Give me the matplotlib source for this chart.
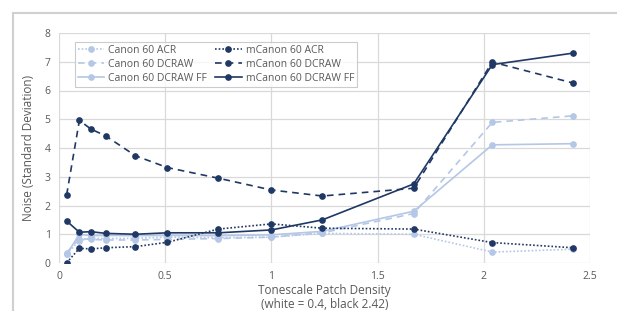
import matplotlib
matplotlib.use('Agg')
import matplotlib.pyplot as plt
from matplotlib.lines import Line2D

# tonescale patch densities (x) shared by every series
density = [0.036, 0.096, 0.15, 0.22, 0.36, 0.51, 0.75, 1.0, 1.24, 1.67, 2.04, 2.42]

canon_acr = [0.32, 0.78, 0.86, 0.85, 0.86, 0.9, 0.88, 0.9, 1.03, 1.0, 0.38, 0.48]
canon_dcraw = [0.36, 0.85, 0.82, 0.8, 0.8, 0.82, 0.85, 0.9, 1.05, 1.72, 4.89, 5.12]
canon_ff = [0.3, 1.0, 0.95, 0.96, 0.95, 0.96, 0.95, 0.98, 1.1, 1.8, 4.11, 4.15]
mcanon_acr = [0.01, 0.51, 0.49, 0.53, 0.57, 0.72, 1.18, 1.36, 1.21, 1.18, 0.71, 0.53]
mcanon_dcraw = [2.37, 4.96, 4.66, 4.42, 3.73, 3.32, 2.95, 2.54, 2.33, 2.6, 6.99, 6.26]
mcanon_ff = [1.46, 1.07, 1.09, 1.03, 1.0, 1.05, 1.05, 1.15, 1.5, 2.75, 6.9, 7.3]

labels = ['Canon 60 ACR', 'Canon 60 DCRAW', 'Canon 60 DCRAW FF',
          'mCanon 60 ACR', 'mCanon 60 DCRAW', 'mCanon 60 DCRAW FF']
xticks = [0, 0.5, 1, 1.5, 2, 2.5]
yticks = [0, 1, 2, 3, 4, 5, 6, 7, 8]

light = '#b4c7e7'
dark = '#1f3864'
txt = '#595959'
grid = '#d9d9d9'

plt.rcParams['font.family'] = ['Open Sans', 'DejaVu Sans']

fig = plt.figure(figsize=(6.17, 3.11), dpi=100)
ax = fig.add_axes([59/617, 1-263/311, 531/617, 230/311])

series = [canon_acr, canon_dcraw, canon_ff, mcanon_acr, mcanon_dcraw, mcanon_ff]
colors = [light, light, light, dark, dark, dark]
styles = [(0, (1, 1.2)), (0, (4, 3)), '-', (0, (1, 1.2)), (0, (4, 3)), '-']
for vals, c, ls, lab in zip(series, colors, styles, labels):
    ax.plot(density, vals, color=c, linestyle=ls, lw=1.2, marker='o',
            markersize=3.8, label=lab)

ax.set_xlim(0, 2.5)
ax.set_ylim(0, 8)
ax.set_xticks(xticks)
ax.set_xticklabels([f'{t:g}' for t in xticks])
ax.set_yticks(yticks)
ax.grid(True, color=grid, lw=0.9)
ax.set_axisbelow(True)
for s in ax.spines.values():
    s.set_visible(False)
ax.tick_params(length=0, labelsize=7.5, colors=txt, pad=6)

ax.set_xlabel('Tonescale Patch Density\n(white = 0.4, black 2.42)', fontsize=8.5,
              color=txt, labelpad=1, linespacing=1.1)
ax.set_ylabel('Noise (Standard Deviation)', fontsize=8.5, color=txt, labelpad=7)

leg = ax.legend(ncol=2, loc='upper left', bbox_to_anchor=(0.03, 0.962),
                borderaxespad=0, fontsize=7.5, frameon=True, fancybox=False,
                edgecolor='#bfbfbf', handlelength=2.5, columnspacing=0.8,
                handletextpad=0.4, labelspacing=0.3, borderpad=0.3)
leg.get_frame().set_linewidth(0.8)
for t in leg.get_texts():
    t.set_color(txt)

# chart area border (left and top edges visible)
fig.add_artist(Line2D([13/617, 13/617], [0, 1-13/311], transform=fig.transFigure,
                      color='#d0d0d0', lw=1.5))
fig.add_artist(Line2D([13/617, 1], [1-13/311, 1-13/311], transform=fig.transFigure,
                      color='#d0d0d0', lw=1.5))

fig.savefig('out.png', dpi=100)
